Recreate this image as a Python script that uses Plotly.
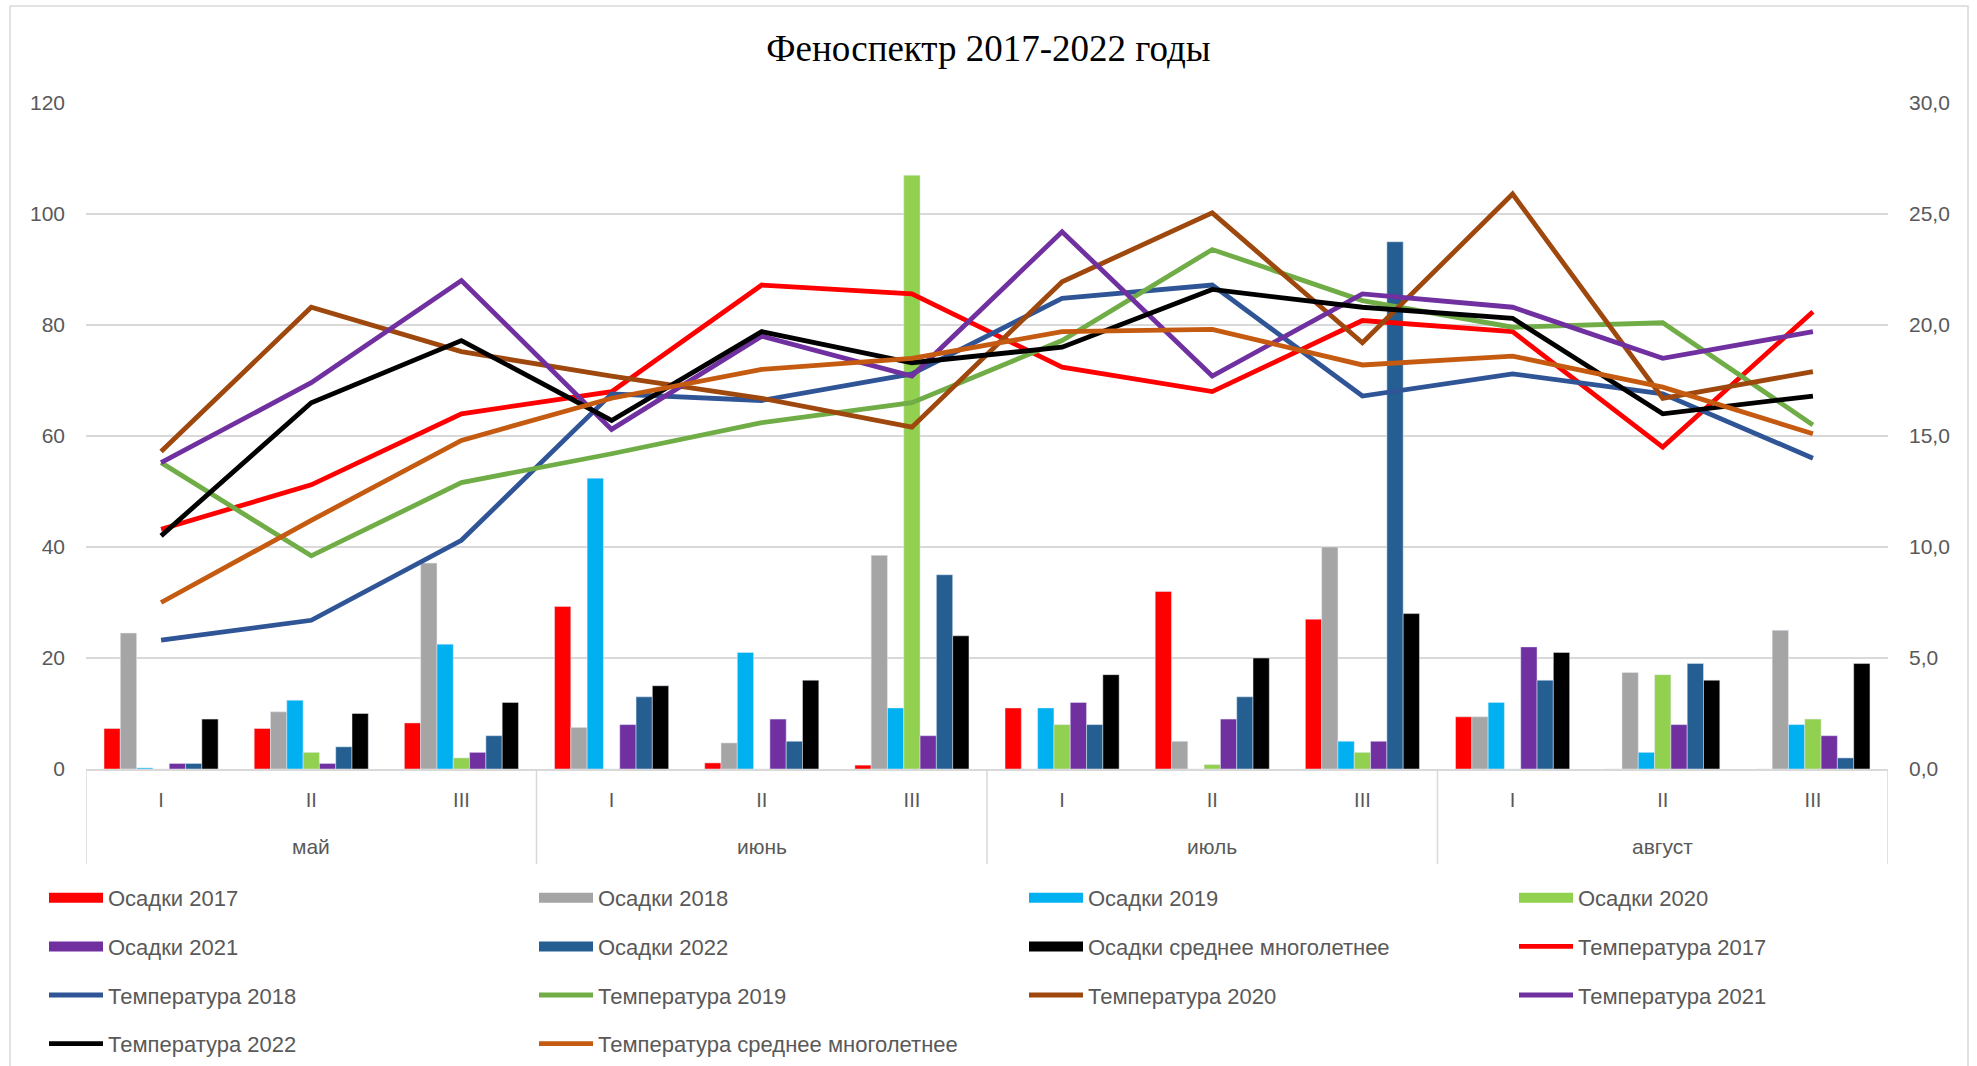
import plotly.graph_objects as go
from plotly.subplots import make_subplots

# --- categories -------------------------------------------------------------
months = ["май", "июнь", "июль", "август"]
dekads = ["I", "II", "III"]

# --- precipitation (mm), per dekad ---------------------------------------------
rain_2017 = [7.3, 7.3, 8.3, 29.3, 1.1, 0.7, 11.0, 32.0, 27.0, 9.4, 0, 0]
rain_2018 = [24.5, 10.3, 37.1, 7.5, 4.7, 38.5, 0, 5.0, 40.0, 9.4, 17.4, 25.0]
rain_2019 = [0.2, 12.4, 22.5, 52.4, 21.0, 11.0, 11.0, 0, 5.0, 12.0, 3.0, 8.0]
rain_2020 = [0, 3.0, 2.0, 0, 0, 107.0, 8.0, 0.8, 3.0, 0, 17.0, 9.0]
rain_2021 = [1.0, 1.0, 3.0, 8.0, 9.0, 6.0, 12.0, 9.0, 5.0, 22.0, 8.0, 6.0]
rain_2022 = [1.0, 4.0, 6.0, 13.0, 5.0, 35.0, 8.0, 13.0, 95.0, 16.0, 19.0, 2.0]
rain_mean = [9.0, 10.0, 12.0, 15.0, 16.0, 24.0, 17.0, 20.0, 28.0, 21.0, 16.0, 19.0]

# --- air temperature (°C), per dekad -------------------------------------------
temp_2017 = [10.8, 12.8, 16.0, 17.0, 21.8, 21.4, 18.1, 17.0, 20.2, 19.7, 14.5, 20.6]
temp_2018 = [5.8, 6.7, 10.3, 16.9, 16.6, 17.8, 21.2, 21.8, 16.8, 17.8, 16.9, 14.0]
temp_2019 = [13.8, 9.6, 12.9, 14.2, 15.6, 16.5, 19.3, 23.4, 21.1, 19.9, 20.1, 15.5]
temp_2020 = [14.3, 20.8, 18.8, 17.7, 16.7, 15.4, 21.95, 25.05, 19.2, 25.9, 16.7, 17.9]
temp_2021 = [13.8, 17.4, 22.0, 15.3, 19.5, 17.7, 24.2, 17.7, 21.4, 20.8, 18.5, 19.7]
temp_2022 = [10.5, 16.5, 19.3, 15.7, 19.7, 18.3, 19.0, 21.6, 20.8, 20.3, 16.0, 16.8]
temp_mean = [7.5, 11.2, 14.8, 16.7, 18.0, 18.5, 19.7, 19.8, 18.2, 18.6, 17.2, 15.1]

# one slot per dekad, months grouped in threes
n_dek = len(dekads)
slots = list(range(len(months) * n_dek))
slot_labels = dekads * len(months)

# each series is assigned to one of four legend columns
bar_series = [
    ("Осадки 2017", rain_2017, "#FF0000", "legend"),
    ("Осадки 2018", rain_2018, "#A5A5A5", "legend2"),
    ("Осадки 2019", rain_2019, "#00B0F0", "legend3"),
    ("Осадки 2020", rain_2020, "#92D050", "legend4"),
    ("Осадки 2021", rain_2021, "#7030A0", "legend"),
    ("Осадки 2022", rain_2022, "#255E91", "legend2"),
    ("Осадки среднее многолетнее", rain_mean, "#000000", "legend3"),
]
line_series = [
    ("Температура 2017", temp_2017, "#FF0000", "legend4"),
    ("Температура 2018", temp_2018, "#2F5597", "legend"),
    ("Температура 2019", temp_2019, "#70AD47", "legend2"),
    ("Температура 2020", temp_2020, "#9E480E", "legend3"),
    ("Температура 2021", temp_2021, "#7030A0", "legend4"),
    ("Температура 2022", temp_2022, "#000000", "legend"),
    ("Температура среднее многолетнее", temp_mean, "#C55A11", "legend2"),
]

fig = make_subplots(specs=[[{"secondary_y": True}]])

rank = 0
for name, vals, color, lg in bar_series:
    rank += 1
    fig.add_trace(
        go.Bar(x=slots, y=vals, name=name, marker=dict(color=color),
               legendgroup=name, showlegend=False),
        secondary_y=False,
    )
    # legend entry: a wide flat swatch for the bar series
    fig.add_trace(
        go.Scatter(x=[None], y=[None], name=name, mode="lines",
                   line=dict(color=color, width=15),
                   legend=lg, legendgroup=name, legendrank=rank,
                   hoverinfo="skip"),
        secondary_y=False,
    )

for name, vals, color, lg in line_series:
    rank += 1
    fig.add_trace(
        go.Scatter(x=slots, y=vals, name=name, mode="lines",
                   line=dict(color=color, width=4.8),
                   legend=lg, legendgroup=name, legendrank=rank),
        secondary_y=True,
    )

FONT = "Liberation Sans"
GRAY_TXT = "#595959"
GRID = "#D9D9D9"

# plot area geometry (px) used to place legends, labels and the frame
W, H = 1977, 1066
L, R, T, B = 86, 89, 103, 297
pw, ph = W - L - R, H - T - B


def px_x(x):
    return (x - L) / pw


def px_y(y):
    return (H - B - y) / ph


legend_common = dict(
    orientation="v", xanchor="left", yanchor="top",
    itemwidth=54, tracegroupgap=17,
    font=dict(family=FONT, size=22, color=GRAY_TXT),
    bgcolor="rgba(0,0,0,0)", traceorder="grouped",
)
legend_cols = [44, 534, 1024, 1514]
legend_top = 877

# month group labels and the separators between month groups
annotations = []
shapes = []
for i, m in enumerate(months):
    group = slots[i * n_dek:(i + 1) * n_dek]
    annotations.append(dict(
        x=sum(group) / len(group), xref="x", y=px_y(847), yref="paper",
        text=m, showarrow=False, xanchor="center", yanchor="middle",
        font=dict(family=FONT, size=21, color=GRAY_TXT),
    ))
bounds = [slots[0] - 0.5] + [slots[(i + 1) * n_dek - 1] + 0.5 for i in range(len(months))]
for xb in bounds:
    shapes.append(dict(type="line", xref="x", yref="paper", x0=xb, x1=xb,
                       y0=0, y1=px_y(864), line=dict(color=GRID, width=1.5)))

# outer frame of the chart
shapes.append(dict(type="rect", xref="paper", yref="paper",
                   x0=px_x(10), x1=px_x(1968), y0=px_y(1090), y1=px_y(6),
                   line=dict(color=GRID, width=1.5), fillcolor="rgba(0,0,0,0)",
                   layer="below"))

fig.update_layout(
    width=W, height=H,
    margin=dict(l=L, r=R, t=T, b=B, autoexpand=False),
    paper_bgcolor="white", plot_bgcolor="white",
    separators=", ",
    barmode="group", bargap=0.24, bargroupgap=0,
    title=dict(text="Феноспектр 2017-2022 годы", x=0.5, xref="container",
               y=1 - 48 / H, yref="container", xanchor="center", yanchor="middle",
               font=dict(family="Liberation Serif", size=37, color="#000000")),
    legend=dict(**legend_common, x=px_x(legend_cols[0]), y=px_y(legend_top)),
    legend2=dict(**legend_common, x=px_x(legend_cols[1]), y=px_y(legend_top)),
    legend3=dict(**legend_common, x=px_x(legend_cols[2]), y=px_y(legend_top)),
    legend4=dict(**legend_common, x=px_x(legend_cols[3]), y=px_y(legend_top)),
    annotations=annotations,
    shapes=shapes,
)

fig.update_xaxes(
    domain=[0, 1],
    range=[slots[0] - 0.5, slots[-1] + 0.5],
    tickmode="array", tickvals=slots, ticktext=slot_labels,
    showline=True, linecolor=GRID, linewidth=1.5,
    showgrid=False, zeroline=False, ticks="",
    ticklabelstandoff=12, automargin=False,
    tickfont=dict(family=FONT, size=20, color=GRAY_TXT),
)

fig.update_yaxes(
    range=[0, 120], dtick=20, tickformat="d",
    showgrid=True, gridcolor=GRID, gridwidth=1.5,
    zeroline=False, showline=False, automargin=False,
    ticklabelstandoff=20,
    tickfont=dict(family=FONT, size=21, color=GRAY_TXT),
    secondary_y=False,
)
fig.update_yaxes(
    range=[0, 30], dtick=5, tickformat=".1f",
    showgrid=False, zeroline=False, showline=False, automargin=False,
    ticklabelstandoff=20,
    tickfont=dict(family=FONT, size=21, color=GRAY_TXT),
    secondary_y=True,
)

fig.write_html("out.html")
